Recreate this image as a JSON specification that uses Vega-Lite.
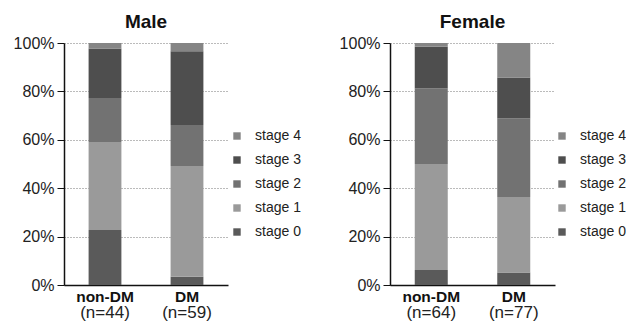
{
  "$schema": "https://vega.github.io/schema/vega-lite/v6.json",
  "padding": {"left": 13, "top": 13, "right": 0, "bottom": 0},
  "background": "white",
  "config": {
    "font": "Liberation Sans",
    "view": {"stroke": null},
    "concat": {"spacing": 38},
    "title": {"fontSize": 19, "fontWeight": "bold", "color": "#111", "offset": 3},
    "axisY": {
      "domainColor": "#111", "domainWidth": 1.5, "tickColor": "#111", "tickSize": 7,
      "gridColor": "#777", "gridDash": [1, 2], "gridWidth": 1,
      "labelFontSize": 16, "labelColor": "#222", "labelPadding": 3
    },
    "axisX": {
      "domainColor": "#111", "domainWidth": 1.5, "ticks": false, "grid": false,
      "labelFontSize": 15.5, "labelFontWeight": "bold", "labelColor": "#111", "labelPadding": 4, "labelAngle": 0
    },
    "legend": {
      "labelFontSize": 14, "labelColor": "#222", "symbolType": "square", "symbolSize": 55,
      "symbolStrokeWidth": 0, "rowPadding": 10, "labelOffset": 11
    }
  },
  "datasets": {
    "bars": [
      {"sex": "Male", "group": "non-DM", "stage": "stage 0", "count": 10},
      {"sex": "Male", "group": "non-DM", "stage": "stage 1", "count": 16},
      {"sex": "Male", "group": "non-DM", "stage": "stage 2", "count": 8},
      {"sex": "Male", "group": "non-DM", "stage": "stage 3", "count": 9},
      {"sex": "Male", "group": "non-DM", "stage": "stage 4", "count": 1},
      {"sex": "Male", "group": "DM", "stage": "stage 0", "count": 2},
      {"sex": "Male", "group": "DM", "stage": "stage 1", "count": 27},
      {"sex": "Male", "group": "DM", "stage": "stage 2", "count": 10},
      {"sex": "Male", "group": "DM", "stage": "stage 3", "count": 18},
      {"sex": "Male", "group": "DM", "stage": "stage 4", "count": 2},
      {"sex": "Female", "group": "non-DM", "stage": "stage 0", "count": 4},
      {"sex": "Female", "group": "non-DM", "stage": "stage 1", "count": 28},
      {"sex": "Female", "group": "non-DM", "stage": "stage 2", "count": 20},
      {"sex": "Female", "group": "non-DM", "stage": "stage 3", "count": 11},
      {"sex": "Female", "group": "non-DM", "stage": "stage 4", "count": 1},
      {"sex": "Female", "group": "DM", "stage": "stage 0", "count": 4},
      {"sex": "Female", "group": "DM", "stage": "stage 1", "count": 24},
      {"sex": "Female", "group": "DM", "stage": "stage 2", "count": 25},
      {"sex": "Female", "group": "DM", "stage": "stage 3", "count": 13},
      {"sex": "Female", "group": "DM", "stage": "stage 4", "count": 11}
    ],
    "ns": [
      {"sex": "Male", "group": "non-DM", "n": "(n=44)"},
      {"sex": "Male", "group": "DM", "n": "(n=59)"},
      {"sex": "Female", "group": "non-DM", "n": "(n=64)"},
      {"sex": "Female", "group": "DM", "n": "(n=77)"}
    ]
  },
  "resolve": {"scale": {"color": "independent"}, "legend": {"color": "independent"}},
  "hconcat": [
    {
      "title": "Male",
      "width": 164,
      "height": 242,
      "layer": [
        {
          "data": {"name": "bars"},
          "transform": [{"filter": "datum.sex === 'Male'"}],
          "mark": {"type": "bar"},
          "encoding": {
            "x": {"field": "group", "type": "nominal", "sort": ["non-DM", "DM"],
                  "scale": {"paddingInner": 0.6, "paddingOuter": 0.3}, "title": null},
            "y": {"field": "count", "type": "quantitative", "stack": "normalize",
                  "scale": {"domain": [0, 1]},
                  "axis": {"values": [0, 0.2, 0.4, 0.6, 0.8, 1], "format": ".0%", "title": null}},
            "color": {"field": "stage", "type": "nominal",
                      "scale": {"domain": ["stage 4", "stage 3", "stage 2", "stage 1", "stage 0"],
                                "range": ["#858585", "#4e4e4e", "#727272", "#9a9a9a", "#5a5a5a"]},
                      "legend": {"title": null, "orient": "none", "legendX": 166, "legendY": 86}},
            "order": {"field": "stage", "sort": "ascending"}
          }
        },
        {
          "data": {"name": "ns"},
          "transform": [{"filter": "datum.sex === 'Male'"}],
          "mark": {"type": "text", "baseline": "top", "yOffset": 20, "fontSize": 17, "color": "#222"},
          "encoding": {
            "x": {"field": "group", "type": "nominal", "sort": ["non-DM", "DM"]},
            "y": {"datum": 0, "type": "quantitative"},
            "text": {"field": "n"}
          }
        }
      ]
    },
    {
      "title": "Female",
      "width": 165,
      "height": 242,
      "layer": [
        {
          "data": {"name": "bars"},
          "transform": [{"filter": "datum.sex === 'Female'"}],
          "mark": {"type": "bar"},
          "encoding": {
            "x": {"field": "group", "type": "nominal", "sort": ["non-DM", "DM"],
                  "scale": {"paddingInner": 0.6, "paddingOuter": 0.3}, "title": null},
            "y": {"field": "count", "type": "quantitative", "stack": "normalize",
                  "scale": {"domain": [0, 1]},
                  "axis": {"values": [0, 0.2, 0.4, 0.6, 0.8, 1], "format": ".0%", "title": null}},
            "color": {"field": "stage", "type": "nominal",
                      "scale": {"domain": ["stage 4", "stage 3", "stage 2", "stage 1", "stage 0"],
                                "range": ["#858585", "#4e4e4e", "#727272", "#9a9a9a", "#5a5a5a"]},
                      "legend": {"title": null, "orient": "none", "legendX": 165, "legendY": 86}},
            "order": {"field": "stage", "sort": "ascending"}
          }
        },
        {
          "data": {"name": "ns"},
          "transform": [{"filter": "datum.sex === 'Female'"}],
          "mark": {"type": "text", "baseline": "top", "yOffset": 20, "fontSize": 17, "color": "#222"},
          "encoding": {
            "x": {"field": "group", "type": "nominal", "sort": ["non-DM", "DM"]},
            "y": {"datum": 0, "type": "quantitative"},
            "text": {"field": "n"}
          }
        }
      ]
    }
  ]
}
